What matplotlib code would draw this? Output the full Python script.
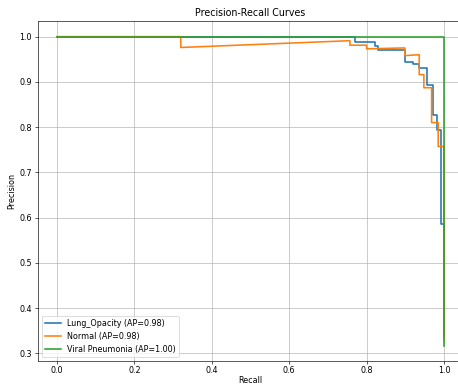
import matplotlib
matplotlib.use("Agg")
import matplotlib.pyplot as plt

# precision / recall points
lung_recall = [0.0, 0.770, 0.770, 0.822, 0.822, 0.830, 0.830, 0.899, 0.899, 0.920, 0.920,
               0.936, 0.936, 0.955, 0.955, 0.972, 0.972, 0.981, 0.981, 0.992, 0.992,
               0.998, 1.0, 1.0]
lung_precision = [1.0, 1.0, 0.988, 0.988, 0.980, 0.980, 0.971, 0.971, 0.945, 0.945, 0.940,
                  0.940, 0.931, 0.931, 0.894, 0.894, 0.827, 0.827, 0.794, 0.794, 0.586,
                  0.586, 0.586, 0.34]

normal_recall = [0.0, 0.320, 0.320, 0.757, 0.757, 0.800, 0.800, 0.899, 0.899, 0.936, 0.936,
                 0.948, 0.948, 0.968, 0.968, 0.985, 0.985, 0.994, 1.0, 1.0]
normal_precision = [1.0, 1.0, 0.976, 0.991, 0.981, 0.981, 0.973, 0.975, 0.958, 0.960, 0.916,
                    0.916, 0.887, 0.887, 0.810, 0.810, 0.757, 0.757, 0.757, 0.33]

viral_recall = [0.0, 1.0, 1.0]
viral_precision = [1.0, 1.0, 0.317]

labels = ["Lung_Opacity (AP=0.98)", "Normal (AP=0.98)", "Viral Pneumonia (AP=1.00)"]

dpi = 57.25
fig = plt.figure(figsize=(458 / dpi, 385 / dpi), dpi=dpi)
ax = fig.add_axes([0.082, 0.0623, 0.9297, 0.8827])

ax.plot(lung_recall, lung_precision, lw=2, label=labels[0])
ax.plot(normal_recall, normal_precision, lw=2, label=labels[1])
ax.plot(viral_recall, viral_precision, lw=2, label=labels[2])

ax.tick_params(axis="x", pad=2.5)
ax.set_xlabel("Recall", labelpad=2)
ax.set_ylabel("Precision")
ax.set_title("Precision-Recall Curves")
ax.legend(loc="lower left")
ax.grid(True)
# the reference image is cut off before the right spine
ax.spines["right"].set_visible(False)

fig.savefig("out.png", dpi=dpi)
